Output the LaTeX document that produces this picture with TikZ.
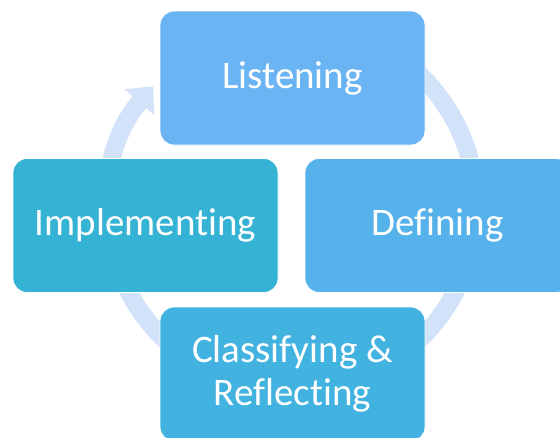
\documentclass[tikz,border=0pt]{standalone}
\usepackage{fontspec}
\setmainfont{Carlito}[Ligatures={NoCommon,NoContextual}]
\usetikzlibrary{positioning,arrows.meta}
\definecolor{listenblue}{RGB}{106,180,243}
\definecolor{defineblue}{RGB}{86,178,234}
\definecolor{classblue}{RGB}{66,179,224}
\definecolor{implblue}{RGB}{52,179,213}
\definecolor{ringblue}{RGB}{210,226,248}
\tikzset{stage/.style={rounded corners=14pt,minimum width=265pt,minimum height=134pt,
  draw=white,line width=.8pt,text=white,align=center,font=\fontsize{39}{46}\selectfont}}

\begin{document}
\begin{tikzpicture}[x=1pt,y=1pt]
\useasboundingbox (0,0) rectangle (560,-437);
\coordinate (ring) at (292,-207);
\draw[ringblue,line width=18pt,-{Triangle[width=38pt,length=21pt]}] (ring) ++(125:184) arc[start angle=125,end angle=-221,radius=184];
\node[stage,fill=listenblue] (listen) at (292.5,-78) {Listening};
\node[stage,fill=defineblue] (define) at (437.5,-225.5) {Defining};
\node[stage,fill=classblue] (classify) at (292.5,-374) {\raisebox{-3pt}{Classifying \&}\\Reflecting};
\node[stage,fill=implblue] (implement) at (145.5,-225.5) {Implementing};
\end{tikzpicture}
\end{document}
